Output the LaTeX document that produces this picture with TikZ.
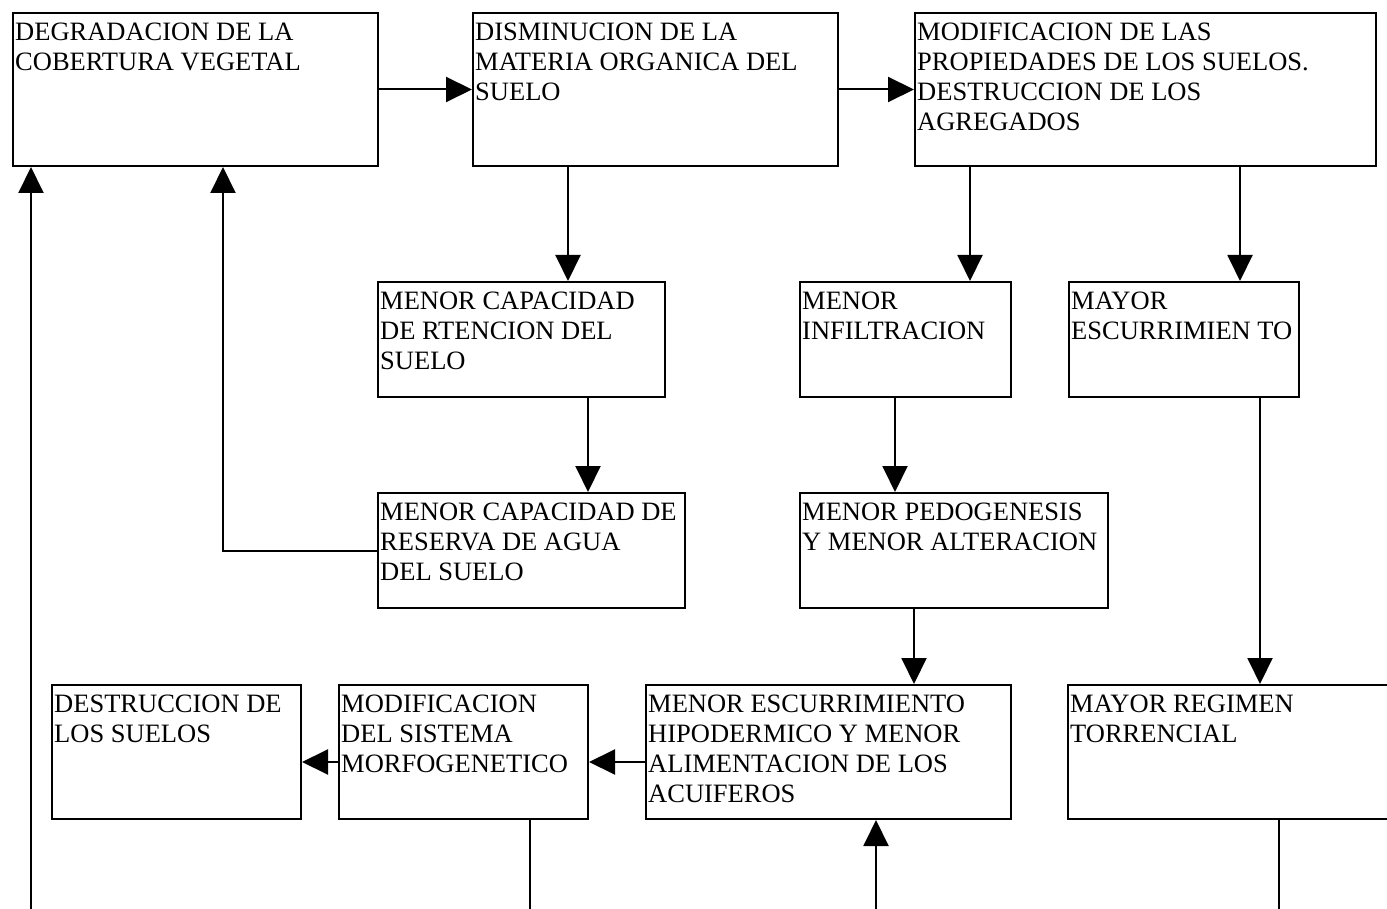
\documentclass[tikz,border=0pt]{standalone}
\usepackage{fontspec}
\setmainfont{Liberation Serif}
\usetikzlibrary{arrows.meta}

% box: name, left x, top y, width, height, text (y grows downward)
\newcommand\flowbox[6]{%
  \node[box, minimum width=#4pt, minimum height=#5pt] (#1) at (#2,#3) {};
  \node[lbl] (#1-t) at ([xshift=3pt,yshift=-10.5pt]#1.north west) {#6};
}

\begin{document}
\begin{tikzpicture}[x=1pt, y=-1pt,
  box/.style={draw, line width=2pt, inner sep=0pt, anchor=north west},
  lbl/.style={anchor=north west, align=left, inner sep=0pt,
              font=\fontsize{26.5}{30}\selectfont},
  conn/.style={line width=2pt},
  arr/.style={conn, -{Triangle[length=26pt, width=25pt]}}]

\useasboundingbox (0,0) rectangle (1387,909);

% first row
\flowbox{degr}{12}{12}{365}{153}{DEGRADACION DE LA\\COBERTURA VEGETAL}
\flowbox{dism}{472}{12}{365}{153}{DISMINUCION DE LA\\MATERIA ORGANICA DEL\\SUELO}
\flowbox{modi}{914}{12}{461}{153}{MODIFICACION DE LAS\\PROPIEDADES DE LOS SUELOS.\\DESTRUCCION DE LOS\\AGREGADOS}

% second row
\flowbox{rete}{377}{281}{287}{115}{MENOR CAPACIDAD\\DE RTENCION DEL\\SUELO}
\flowbox{infi}{799}{281}{211}{115}{MENOR\\INFILTRACION}
\flowbox{escu}{1068}{281}{230}{115}{MAYOR\\ESCURRIMIEN TO}

% third row
\flowbox{rese}{377}{492}{307}{115}{MENOR CAPACIDAD DE\\RESERVA DE AGUA\\DEL SUELO}
\flowbox{pedo}{799}{492}{308}{115}{MENOR PEDOGENESIS\\Y MENOR ALTERACION}

% fourth row
\flowbox{dest}{51}{684}{249}{134}{DESTRUCCION DE\\LOS SUELOS}
\flowbox{morf}{338}{684}{249}{134}{MODIFICACION\\DEL SISTEMA\\MORFOGENETICO}
\flowbox{hipo}{645}{684}{365}{134}{MENOR ESCURRIMIENTO\\HIPODERMICO Y MENOR\\ALIMENTACION DE LOS\\ACUIFEROS}
\flowbox{torr}{1067}{684}{330}{134}{MAYOR REGIMEN\\TORRENCIAL}

% open ends below the page edge
\coordinate (inA) at (31,915);
\coordinate (outB) at (530,915);
\coordinate (inC) at (876,915);
\coordinate (outD) at (1279,915);

% connectors
\draw[arr] (degr.east) -- (dism.west);
\draw[arr] (dism.east) -- (modi.west);
\draw[arr] ([xshift=96pt]dism.south west) -- ([xshift=96pt]dism.south west |- rete.north);
\draw[arr] ([xshift=56pt]modi.south west) -- ([xshift=56pt]modi.south west |- infi.north);
\draw[arr] ([xshift=326pt]modi.south west) -- ([xshift=326pt]modi.south west |- escu.north);
\draw[arr] ([xshift=211pt]rete.south west) -- ([xshift=211pt]rete.south west |- rese.north);
\draw[arr] ([xshift=96pt]infi.south west) -- ([xshift=96pt]infi.south west |- pedo.north);
\draw[arr] ([xshift=192pt]escu.south west) -- ([xshift=192pt]escu.south west |- torr.north);
\draw[arr] ([xshift=115pt]pedo.south west) -- ([xshift=115pt]pedo.south west |- hipo.north);
\draw[arr] (rese.west) -| ([xshift=211pt]degr.south west);
\draw[arr] ([yshift=-10pt]hipo.west) -- ([yshift=-10pt]hipo.west -| morf.east);
\draw[arr] ([yshift=-10pt]morf.west) -- ([yshift=-10pt]morf.west -| dest.east);
\draw[arr] (inA) -- (inA |- degr.south);
\draw[conn] (outB |- morf.south) -- (outB);
\draw[arr] (inC) -- (inC |- hipo.south);
\draw[conn] (outD |- torr.south) -- (outD);

\end{tikzpicture}
\end{document}
